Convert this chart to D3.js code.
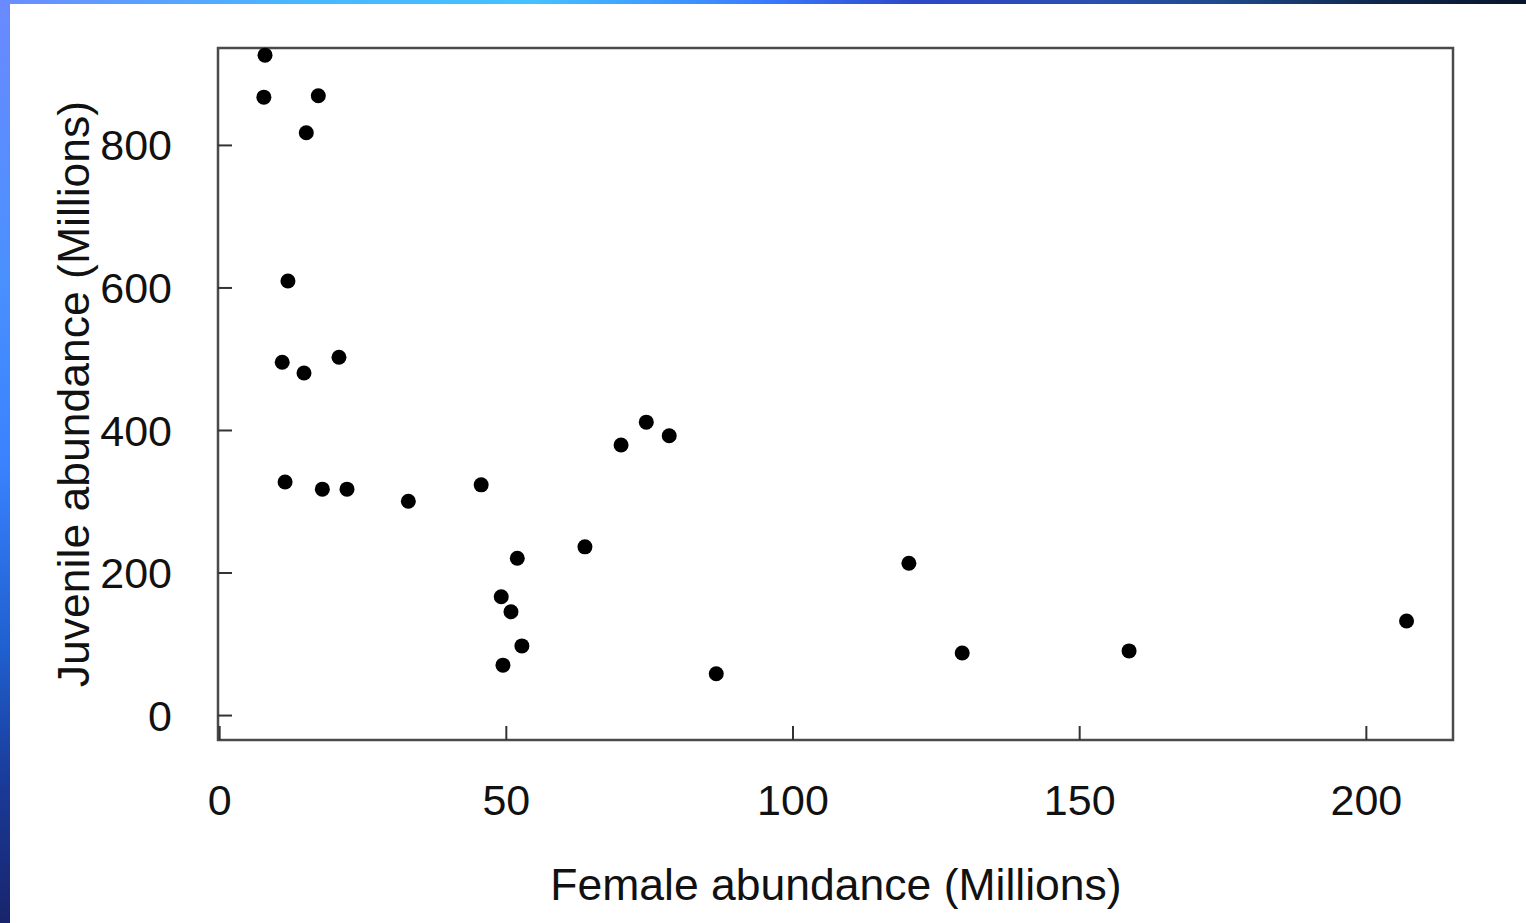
<!DOCTYPE html>
<html>
<head>
<meta charset="utf-8">
<script src="https://cdn.jsdelivr.net/npm/d3@7"></script>
<style>
  html, body { margin: 0; padding: 0; background: #fff; }
  svg { display: block; }
  text { font-family: "Liberation Sans", Arial, sans-serif; fill: #111; }
</style>
</head>
<body>
<svg id="chart" width="1526" height="923"></svg>
<script>
// ---- data (Millions) ----
const femaleAbundance = [8.0, 7.8, 17.3, 15.2, 12.0, 11.0, 14.8, 20.9, 11.5, 18.0, 22.3, 33.0, 45.7, 52.0, 49.2, 50.9, 49.5, 52.8, 63.8, 70.1, 74.5, 78.5, 86.7, 120.3, 129.6, 158.7, 207.1];
const juvenileAbundance = [926, 867, 869, 817, 609, 495, 480, 502, 327, 317, 317, 300, 323, 220, 166, 145, 70, 97, 236, 379, 411, 392, 58, 213, 87, 90, 132];
const xTicks = [0, 50, 100, 150, 200];
const yTicks = [0, 200, 400, 600, 800];
const xDomain = [-0.2, 215.2];
const yDomain = [-35, 936];
const xTitle = "Female abundance (Millions)";
const yTitle = "Juvenile abundance (Millions)";

const W = 1526, H = 923;
const svg = d3.select("#chart");

// frame gradients (slide border)
const defs = svg.append("defs");
const gTop = defs.append("linearGradient").attr("id", "gTop").attr("x1", "0").attr("x2", "1").attr("y1", "0").attr("y2", "0");
[["0", "#6a8cff"], ["0.2", "#48b8ff"], ["0.35", "#44c0ff"], ["0.5", "#3a7cff"], ["0.6", "#2c48c8"], ["0.72", "#2a50b0"], ["0.8", "#1e4a8c"], ["0.9", "#10284e"], ["1", "#08142c"]]
  .forEach(([o, c]) => gTop.append("stop").attr("offset", o).attr("stop-color", c));
const gLeft = defs.append("linearGradient").attr("id", "gLeft").attr("x1", "0").attr("x2", "0").attr("y1", "0").attr("y2", "1");
[["0", "#6a8aff"], ["0.3", "#4a90ff"], ["0.5", "#3a82ff"], ["0.7", "#2060d0"], ["0.85", "#1a3a98"], ["1", "#18246c"]]
  .forEach(([o, c]) => gLeft.append("stop").attr("offset", o).attr("stop-color", c));

svg.append("rect").attr("x", 0).attr("y", 0).attr("width", W).attr("height", H).attr("fill", "#fff");
svg.append("rect").attr("x", 0).attr("y", 0).attr("width", W).attr("height", 4).attr("fill", "url(#gTop)");
svg.append("rect").attr("x", 0).attr("y", 0).attr("width", 10).attr("height", H).attr("fill", "url(#gLeft)");

// scales
const x = d3.scaleLinear().domain(xDomain).range([218, 1453]);
const y = d3.scaleLinear().domain(yDomain).range([740, 48]);

// plot box
svg.append("rect")
  .attr("x", x(xDomain[0])).attr("y", y(yDomain[1]))
  .attr("width", x(xDomain[1]) - x(xDomain[0]))
  .attr("height", y(yDomain[0]) - y(yDomain[1]))
  .attr("fill", "none").attr("stroke", "#4a4a4a").attr("stroke-width", 2.5);

// axes (inward ticks)
const xAxis = svg.append("g").attr("transform", `translate(0,${y(yDomain[0])})`)
  .call(d3.axisBottom(x).tickValues(xTicks).tickSize(-14).tickPadding(44).tickFormat(d3.format("d")));
const yAxis = svg.append("g").attr("transform", `translate(${x(xDomain[0])},0)`)
  .call(d3.axisLeft(y).tickValues(yTicks).tickSize(-14).tickPadding(46).tickFormat(d3.format("d")));
[xAxis, yAxis].forEach(a => {
  a.select(".domain").remove();
  a.selectAll(".tick line").attr("stroke", "#333").attr("stroke-width", 2);
  a.selectAll(".tick text").attr("font-size", 43).attr("fill", "#111")
    .style("font-family", '"Liberation Sans", Arial, sans-serif');
});
xAxis.selectAll(".tick text").attr("dy", "0.71em").attr("y", 44);
yAxis.selectAll(".tick text").attr("x", -46).attr("dy", "0.35em");

// titles
svg.append("text").attr("x", 836).attr("y", 900).attr("text-anchor", "middle")
  .attr("font-size", 44.5).text(xTitle);
svg.append("text").attr("transform", "translate(89,394) rotate(-90)").attr("text-anchor", "middle")
  .attr("font-size", 44.5).text(yTitle);

// points
svg.append("g").selectAll("circle")
  .data(d3.range(femaleAbundance.length))
  .join("circle")
  .attr("cx", i => x(femaleAbundance[i]))
  .attr("cy", i => y(juvenileAbundance[i]))
  .attr("r", 7.5)
  .attr("fill", "#000");
</script>
</body>
</html>
